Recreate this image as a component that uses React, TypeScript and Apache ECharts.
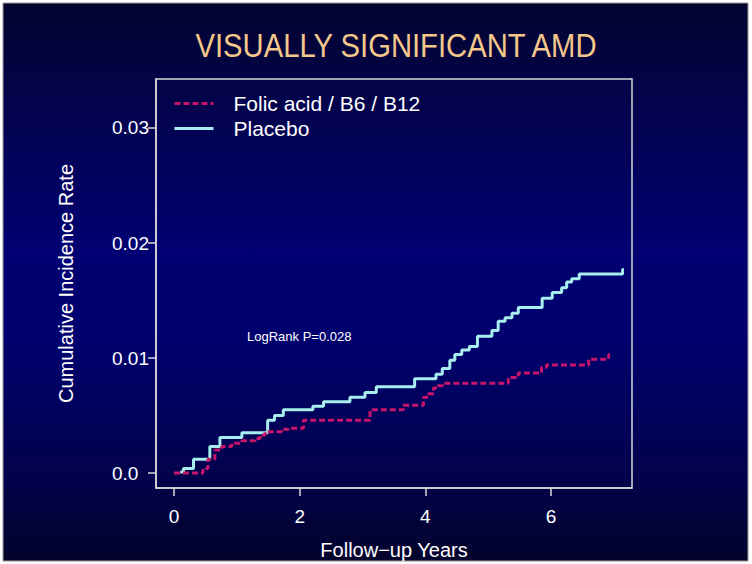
import React, { useEffect, useRef } from "react";
import * as echarts from "echarts";

// Kaplan–Meier style cumulative incidence (step changes: [year, rate])
const placeboTimes = [0.1, 0.15, 0.31, 0.57, 0.73, 1.08, 1.49, 1.6, 1.74, 2.21, 2.38, 2.8, 3.04, 3.22, 3.83, 4.17, 4.27, 4.39, 4.47, 4.58, 4.7, 4.83, 5.06, 5.16, 5.27, 5.38, 5.48, 5.86, 6.02, 6.17, 6.25, 6.33, 6.45, 7.14, 7.16];
const placeboRates = [0.0001, 0.0004, 0.0012, 0.0023, 0.0031, 0.0035, 0.0046, 0.005, 0.0055, 0.0058, 0.0062, 0.0066, 0.007, 0.0075, 0.0082, 0.0086, 0.0091, 0.0098, 0.0103, 0.0107, 0.011, 0.0119, 0.0124, 0.0132, 0.0135, 0.0139, 0.0144, 0.0152, 0.0157, 0.0161, 0.0166, 0.0169, 0.0173, 0.0177, 0.0177];

const folicTimes = [0, 0.33, 0.46, 0.54, 0.65, 0.76, 0.92, 1.08, 1.29, 1.37, 1.45, 1.71, 1.82, 2.06, 3.12, 3.65, 3.97, 4.05, 4.13, 4.2, 4.3, 5.32, 5.48, 5.85, 5.93, 6.6, 6.92, 6.94];
const folicRates = [0, 0, 0.0004, 0.0012, 0.002, 0.0023, 0.0026, 0.0028, 0.003, 0.0033, 0.0036, 0.0038, 0.0039, 0.0046, 0.0055, 0.0059, 0.0066, 0.0069, 0.0074, 0.0076, 0.0078, 0.0083, 0.0087, 0.0092, 0.0094, 0.0099, 0.0103, 0.0103];

const xTicks = [0, 2, 4, 6];
const yTicks = [0, 0.01, 0.02, 0.03];

const seriesNames = ["Folic acid / B6 / B12", "Placebo"];
const titleText = "VISUALLY SIGNIFICANT AMD";
const xTitle = "Follow\u2212up Years";
const yTitle = "Cumulative Incidence Rate";
const annotation = "LogRank P=0.028";

const FONT = "'Liberation Sans', Arial, Helvetica, sans-serif";
const CYAN = "#a8eeee";
const MAGENTA = "#c8156c";
const AXIS = "#d8d8d8";

export default function App() {
  const ref = useRef<HTMLDivElement>(null);
  useEffect(() => {
    if (!ref.current) return;
    const chart = echarts.init(ref.current, undefined, { renderer: "svg" });
    const placebo = placeboTimes.map((t, i) => [t, placeboRates[i]]);
    const folic = folicTimes.map((t, i) => [t, folicRates[i]]);
    chart.setOption({
      animation: false,
      backgroundColor: "#ffffff",
      graphic: [
        {
          type: "rect",
          z: -100,
          silent: true,
          shape: { x: 3, y: 3, width: 745, height: 558 },
          style: {
            fill: new echarts.graphic.LinearGradient(0, 0, 0, 1, [
              { offset: 0, color: "#04042f" },
              { offset: 0.15, color: "#030348" },
              { offset: 0.45, color: "#000072" },
              { offset: 0.6, color: "#00006e" },
              { offset: 0.85, color: "#02024c" },
              { offset: 1, color: "#03032b" },
            ]),
            stroke: "#9a9a9a",
            lineWidth: 1,
          },
        },
        {
          type: "text",
          x: 396,
          y: 45,
          scaleX: 0.86,
          style: {
            text: titleText,
            fill: "#f4c88a",
            font: `34px ${FONT}`,
            align: "center",
            verticalAlign: "middle",
          },
        },
        {
          type: "text",
          x: 247,
          y: 336,
          style: {
            text: annotation,
            fill: "#ffffff",
            font: `13px ${FONT}`,
            align: "left",
            verticalAlign: "middle",
          },
        },
      ],
      legend: {
        orient: "vertical",
        left: 173,
        top: 93,
        padding: 0,
        itemWidth: 39,
        itemHeight: 14,
        itemGap: 4,
        data: [
          {
            name: seriesNames[0],
            itemStyle: { opacity: 0 },
            lineStyle: { color: MAGENTA, width: 3, type: [6, 3] },
          },
          {
            name: seriesNames[1],
            itemStyle: { opacity: 0 },
            lineStyle: { color: CYAN, width: 3, type: "solid" },
          },
        ],
        textStyle: {
          color: "#ffffff",
          fontSize: 21,
          lineHeight: 21,
          fontFamily: FONT,
          padding: [0, 0, 0, 15],
        },
      },
      grid: {
        left: 156,
        top: 79,
        right: 120,
        bottom: 76,
        outerBoundsMode: "none",
        containLabel: false,
        show: true,
        borderColor: AXIS,
        borderWidth: 1.5,
        backgroundColor: "transparent",
      },
      xAxis: {
        type: "value",
        min: -0.287,
        max: 7.29,
        name: xTitle,
        nameLocation: "middle",
        nameGap: 52,
        nameTextStyle: { color: "#ffffff", fontSize: 20, fontFamily: FONT },
        axisLine: { show: true, onZero: false, lineStyle: { color: AXIS, width: 1.5 } },
        axisTick: { show: true, customValues: xTicks, length: 8, lineStyle: { color: AXIS, width: 1.5 } },
        axisLabel: { customValues: xTicks, color: "#ffffff", fontSize: 19, fontFamily: FONT, margin: 19 },
        splitLine: { show: false },
      },
      yAxis: {
        type: "value",
        min: -0.0013,
        max: 0.03426,
        name: yTitle,
        nameLocation: "middle",
        nameGap: 80,
        nameTextStyle: { color: "#ffffff", fontSize: 20, fontFamily: FONT },
        axisLine: { show: true, onZero: false, lineStyle: { color: AXIS, width: 1.5 } },
        axisTick: { show: true, customValues: yTicks, length: 8, lineStyle: { color: AXIS, width: 1.5 } },
        axisLabel: {
          customValues: yTicks,
          color: "#ffffff",
          fontSize: 19,
          fontFamily: FONT,
          margin: 44,
          align: "left",
          formatter: (v: number) => (v === 0 ? "0.0" : v.toFixed(2)),
        },
        splitLine: { show: false },
      },
      series: [
        {
          name: seriesNames[1],
          type: "line",
          step: "end",
          data: placebo,
          symbol: "none",
          lineStyle: { color: CYAN, width: 3 },
          itemStyle: { color: CYAN },
        },
        {
          name: seriesNames[0],
          type: "line",
          step: "end",
          data: folic,
          symbol: "none",
          lineStyle: { color: MAGENTA, width: 3, type: [6, 3] },
          itemStyle: { color: MAGENTA },
        },
      ],
    });
    return () => chart.dispose();
  }, []);
  return (
    <div
      ref={ref}
      style={{ position: "fixed", left: 0, top: 0, width: 752, height: 564 }}
    />
  );
}
